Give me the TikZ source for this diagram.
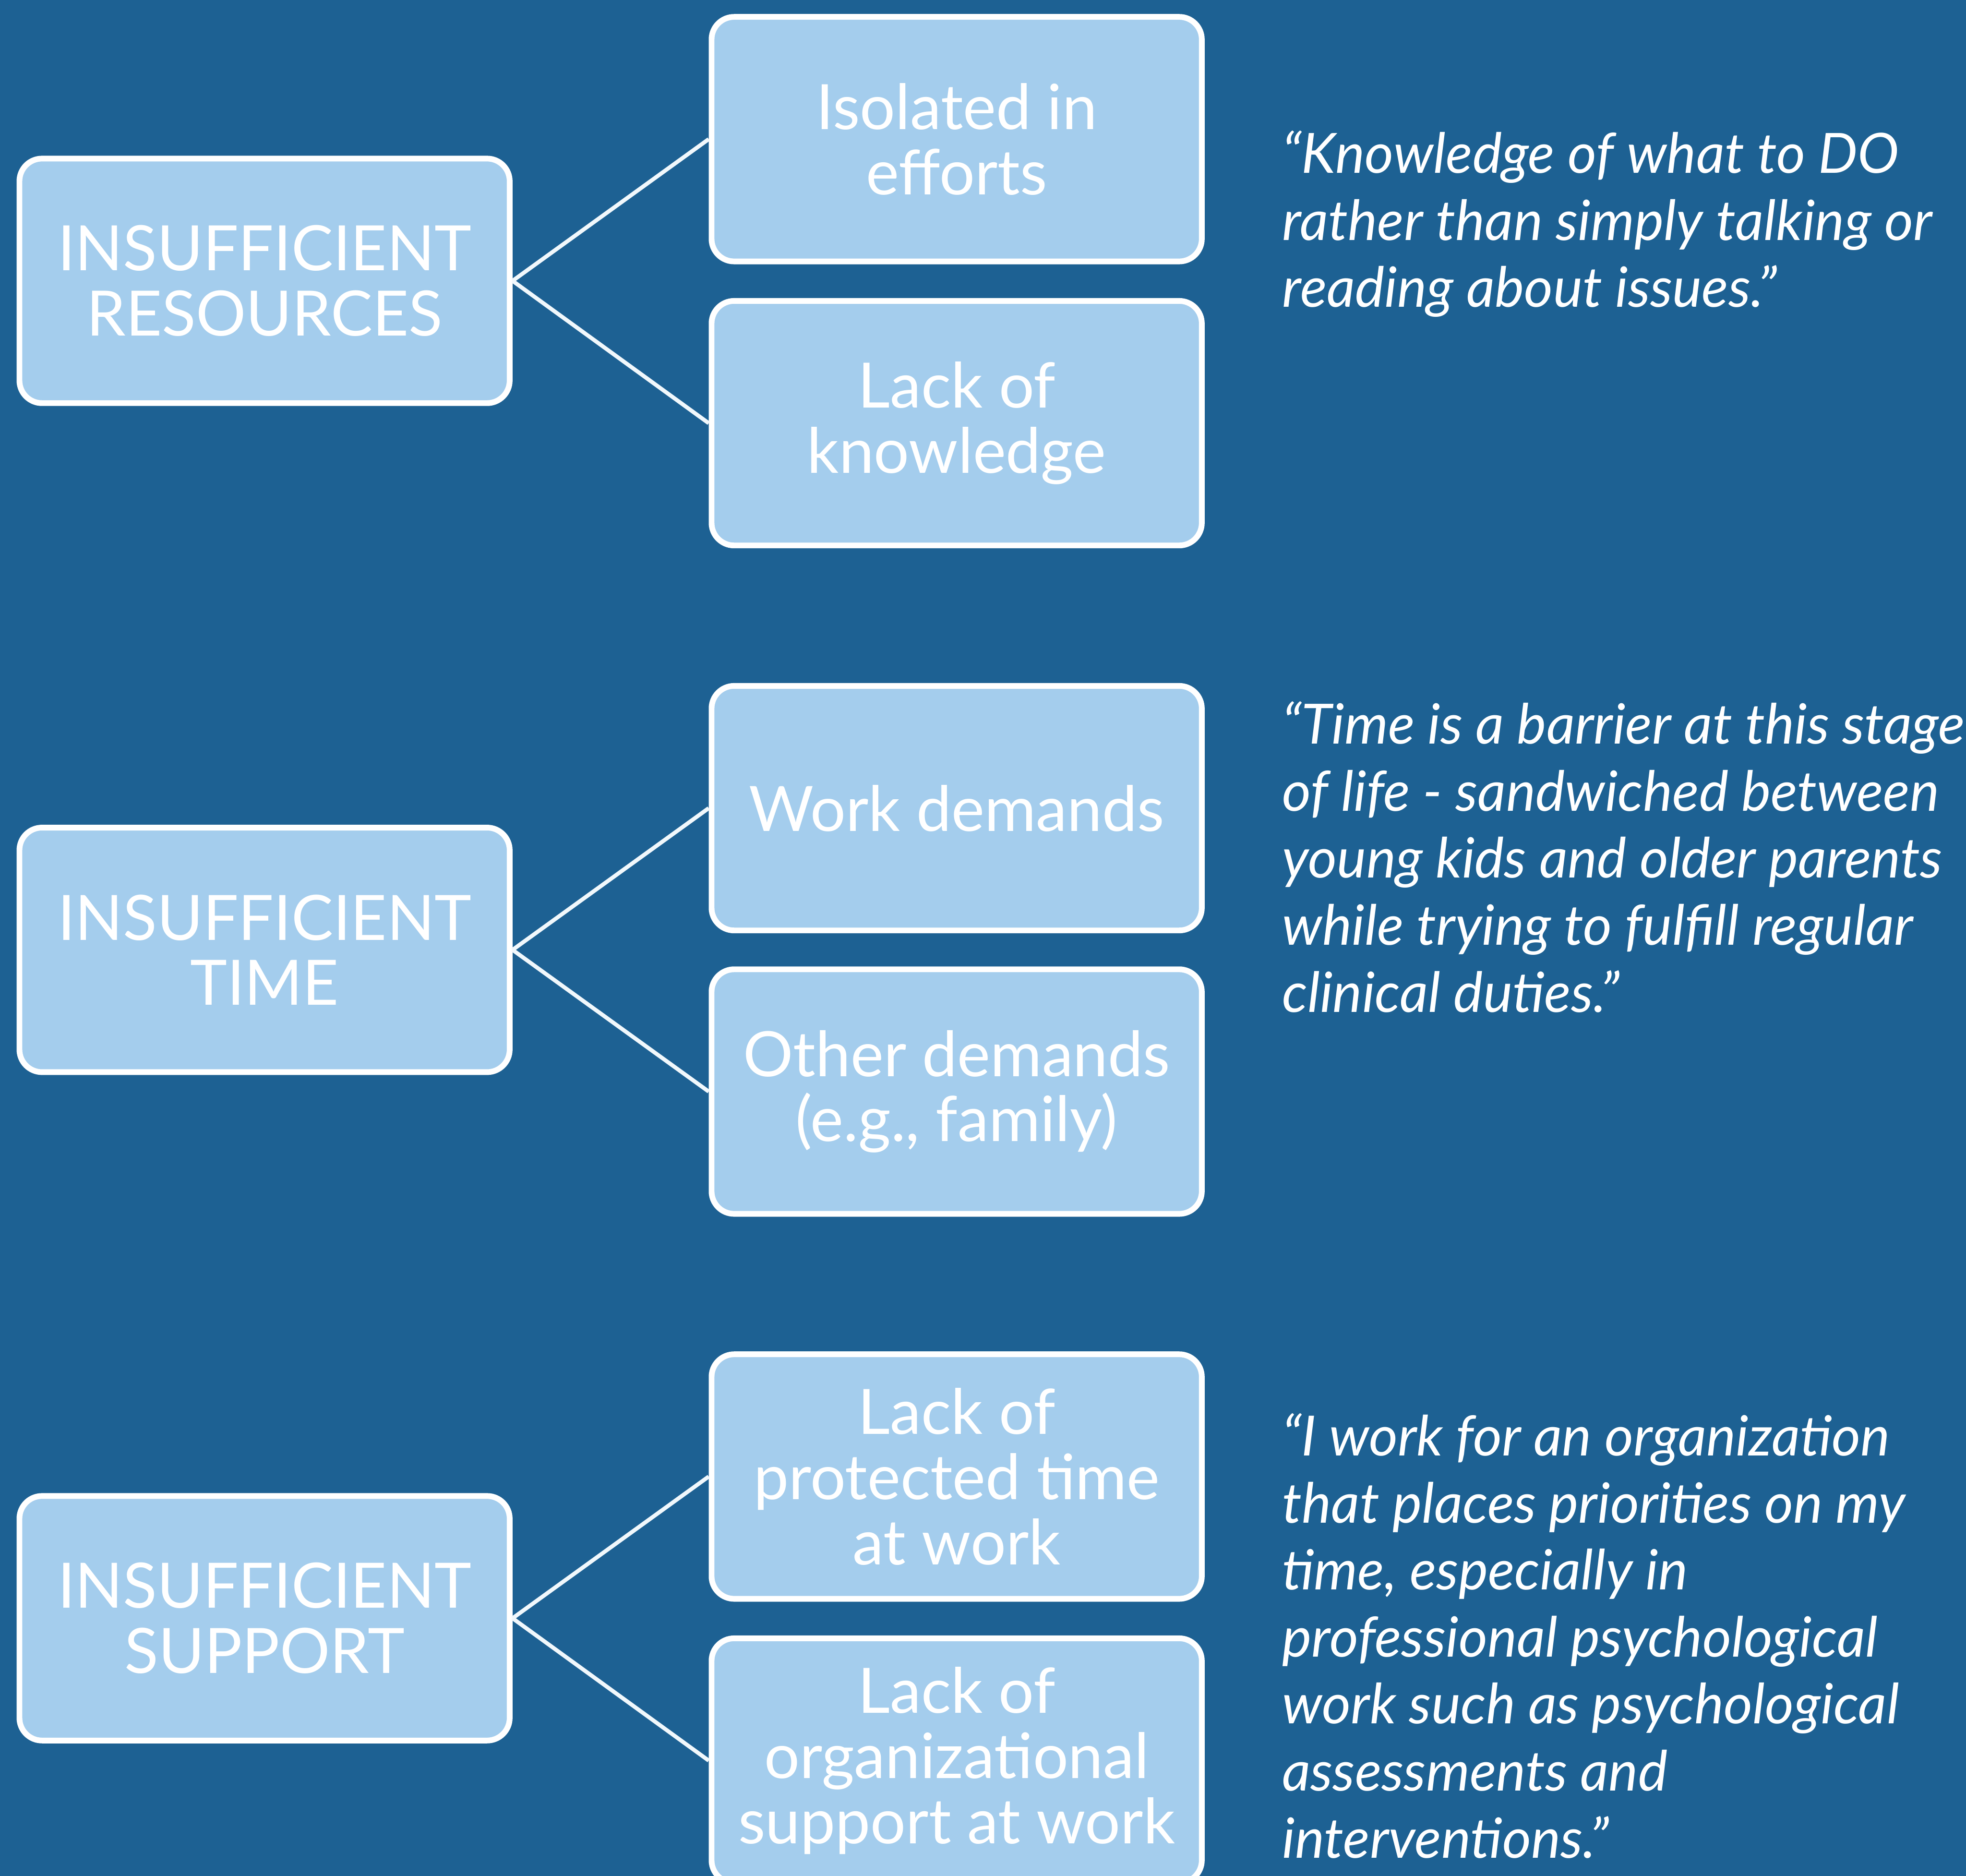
\documentclass[tikz,border=0pt]{standalone}
\usepackage{fontspec}
\setmainfont{Lato}
\definecolor{panelblue}{HTML}{1D6193}
\definecolor{boxblue}{HTML}{A4CDED}
\tikzset{
  causebox/.style={draw=white, line width=1.3pt, fill=boxblue, rounded corners=0.18cm,
    minimum width=3.91cm, minimum height=1.95cm, inner sep=0pt, align=center,
    text=white, font=\fontsize{14.2pt}{14.8pt}\selectfont},
  quotetext/.style={anchor=base west, align=left, inner sep=0pt, text=white,
    font=\fontsize{12.6pt}{15.2pt}\selectfont\itshape},
  link/.style={draw=white!85!boxblue, line width=0.9pt}
}

\begin{document}
\begin{tikzpicture}
	%%%%% BACKGROUND %%%%%
	\useasboundingbox (0, 0) rectangle (15.68, 14.96);
	\clip (0, 0) rectangle (15.68, 14.96);
	\fill[panelblue] (0, 0) rectangle (15.68, 14.96);
	
	%%%%% RESOURCES %%%%%
	\node[causebox] (res) at (2.11, 12.72) {INSUFFICIENT\\RESOURCES};
	\node[causebox] (isol) at (7.63, 13.85) {Isolated in\\efforts};
	\node[causebox] (know) at (7.63, 11.585) {Lack of\\knowledge};
	\draw[link] (res.east) -- (isol.west);
	\draw[link] (res.east) -- (know.west);
	% base of a quote = baseline of its last line
	\node[quotetext] (qres) at (10.22, 12.51) {``Knowledge of what to DO\\rather than simply talking or\\reading about issues.''};
	
	%%%%% TIME %%%%%
	\node[causebox] (time) at (2.11, 7.385) {INSUFFICIENT\\TIME};
	\node[causebox] (work) at (7.63, 8.515) {Work demands};
	\node[causebox] (other) at (7.63, 6.255) {Other demands\\(e.g., family)};
	\draw[link] (time.east) -- (work.west);
	\draw[link] (time.east) -- (other.west);
	\node[quotetext] (qtime) at (10.22, 6.89) {``Time is a barrier at this stage\\of life - sandwiched between\\young kids and older parents\\while trying to fulfill regular\\clinical duties.''};
	
	%%%%% SUPPORT %%%%%
	\node[causebox] (sup) at (2.11, 2.055) {INSUFFICIENT\\SUPPORT};
	\node[causebox] (prot) at (7.63, 3.185) {Lack of\\protected time\\at work};
	\node[causebox] (org) at (7.63, 0.92) {Lack of\\organizational\\support at work};
	\draw[link] (sup.east) -- (prot.west);
	\draw[link] (sup.east) -- (org.west);
	\node[quotetext] (qsup) at (10.22, 0.145) {``I work for an organization\\that places priorities on my\\time, especially in\\professional psychological\\work such as psychological\\assessments and\\interventions.''};
\end{tikzpicture}
\end{document}
